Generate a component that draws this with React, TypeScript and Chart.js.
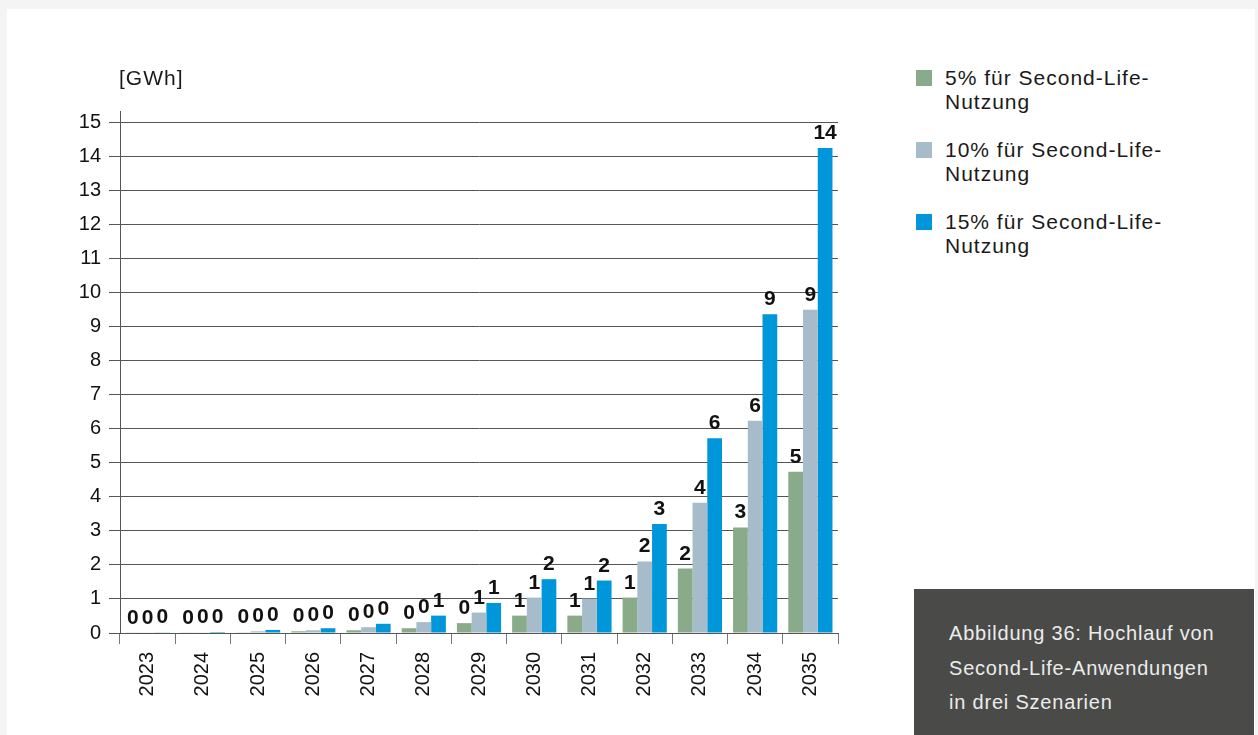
import React, { useEffect, useRef } from "react";
import { Chart, registerables } from "chart.js";

Chart.register(...registerables);

const years = ["2023", "2024", "2025", "2026", "2027", "2028", "2029", "2030", "2031", "2032", "2033", "2034", "2035"];
const share5 = [0.01, 0.01, 0.02, 0.05, 0.08, 0.14, 0.29, 0.51, 0.51, 1.04, 1.89, 3.1, 4.73];
const share10 = [0.01, 0.02, 0.05, 0.08, 0.17, 0.32, 0.6, 1.04, 1.01, 2.1, 3.82, 6.23, 9.49];
const share15 = [0.02, 0.03, 0.09, 0.14, 0.27, 0.51, 0.88, 1.58, 1.54, 3.2, 5.72, 9.36, 14.24];
const seriesNames = ["5% für Second-Life-Nutzung", "10% für Second-Life-Nutzung", "15% für Second-Life-Nutzung"];
const legendLines = [["5% für Second-Life-", "Nutzung"], ["10% für Second-Life-", "Nutzung"], ["15% für Second-Life-", "Nutzung"]];
const colors = ["#8aab8a", "#a6bccb", "#0096da"];
const yTicks = [0, 1, 2, 3, 4, 5, 6, 7, 8, 9, 10, 11, 12, 13, 14, 15];
const unitLabel = "[GWh]";
const captionLines = ["Abbildung 36: Hochlauf von", "Second-Life-Anwendungen", "in drei Szenarien"];

const FONT = "'Liberation Sans', Arial, Helvetica, sans-serif";

const valueLabels = {
  id: "valueLabels",
  afterDatasetsDraw(chart: any) {
    const ctx = chart.ctx;
    ctx.save();
    ctx.font = `bold 21px ${FONT}`;
    ctx.fillStyle = "#111";
    ctx.textAlign = "center";
    ctx.textBaseline = "alphabetic";
    chart.data.datasets.forEach((ds: any, di: number) => {
      const meta = chart.getDatasetMeta(di);
      meta.data.forEach((bar: any, i: number) => {
        const v = ds.data[i];
        ctx.fillText(String(Math.round(v)), bar.x, bar.y - 9);
      });
    });
    ctx.restore();
  },
};

const axisExtension = {
  id: "axisExtension",
  afterDraw(chart: any) {
    const { ctx, chartArea } = chart;
    ctx.save();
    ctx.strokeStyle = "#555";
    ctx.lineWidth = 1;
    ctx.beginPath();
    ctx.moveTo(Math.round(chartArea.left) + 0.5, chartArea.top - 11);
    ctx.lineTo(Math.round(chartArea.left) + 0.5, chartArea.top);
    ctx.stroke();
    ctx.restore();
  },
};

export default function App() {
  const ref = useRef<HTMLCanvasElement | null>(null);

  useEffect(() => {
    if (!ref.current) return;
    const chart = new Chart(ref.current, {
      type: "bar",
      data: {
        labels: years,
        datasets: [share5, share10, share15].map((d, i) => ({
          label: seriesNames[i],
          data: d,
          backgroundColor: colors[i],
          borderWidth: 0,
          categoryPercentage: 0.8,
          barPercentage: 1.0,
        })),
      },
      options: {
        responsive: false,
        animation: false,
        layout: { padding: { left: 0, top: 122, right: 62, bottom: 0 } },
        plugins: { legend: { display: false }, tooltip: { enabled: false }, title: { display: false } },
        scales: {
          x: {
            offset: true,
            grid: { offset: true, drawOnChartArea: false, drawTicks: true, tickLength: 11, color: "#777" },
            border: { display: true, color: "#555", width: 1 },
            ticks: { minRotation: 90, maxRotation: 90, padding: 8, color: "#111", font: { family: FONT, size: 20 } },
            afterFit: (s: any) => { s.height = 102; },
          },
          y: {
            min: 0,
            max: 15,
            afterBuildTicks: (s: any) => { s.ticks = yTicks.map((v) => ({ value: v })); },
            grid: { color: "#555", tickLength: 11, drawTicks: true },
            border: { display: true, color: "#555", width: 1 },
            ticks: { padding: 8, color: "#111", font: { family: FONT, size: 20 } },
            afterFit: (s: any) => { s.width = 120; },
          },
        },
      },
      plugins: [valueLabels, axisExtension],
    });
    return () => chart.destroy();
  }, []);

  return (
    <div style={{ position: "absolute", left: 0, top: 0, width: 1258, height: 735, background: "#f4f4f4", overflow: "hidden", fontFamily: FONT }}>
      <div style={{ position: "absolute", left: 7, top: 9, width: 1248, height: 726, background: "#ffffff" }} />
      <canvas ref={ref} width={900} height={735} style={{ position: "absolute", left: 0, top: 0, width: 900, height: 735 }} />
      <div style={{ position: "absolute", left: 119, top: 66, fontSize: 21, lineHeight: "24px", letterSpacing: "1px", color: "#1a1a1a", whiteSpace: "pre" }}>{unitLabel}</div>
      {legendLines.map((lines, i) => (
        <div key={i} style={{ position: "absolute", left: 916, top: 66 + i * 72 }}>
          <div style={{ position: "absolute", left: 0, top: 4, width: 16, height: 16, background: colors[i] }} />
          <div style={{ position: "absolute", left: 29, top: 0, fontSize: 21, lineHeight: "24px", letterSpacing: "1px", color: "#1a1a1a", whiteSpace: "pre" }}>
            {lines[0]}
            <br />
            {lines[1]}
          </div>
        </div>
      ))}
      <div style={{ position: "absolute", left: 914, top: 589, width: 340, height: 146, background: "#4a4a48" }}>
        <div style={{ position: "absolute", left: 35, top: 27, fontSize: 20, lineHeight: "34.5px", letterSpacing: "0.8px", color: "#ececec", whiteSpace: "pre" }}>
          {captionLines.map((l, i) => (
            <div key={i}>{l}</div>
          ))}
        </div>
      </div>
    </div>
  );
}
